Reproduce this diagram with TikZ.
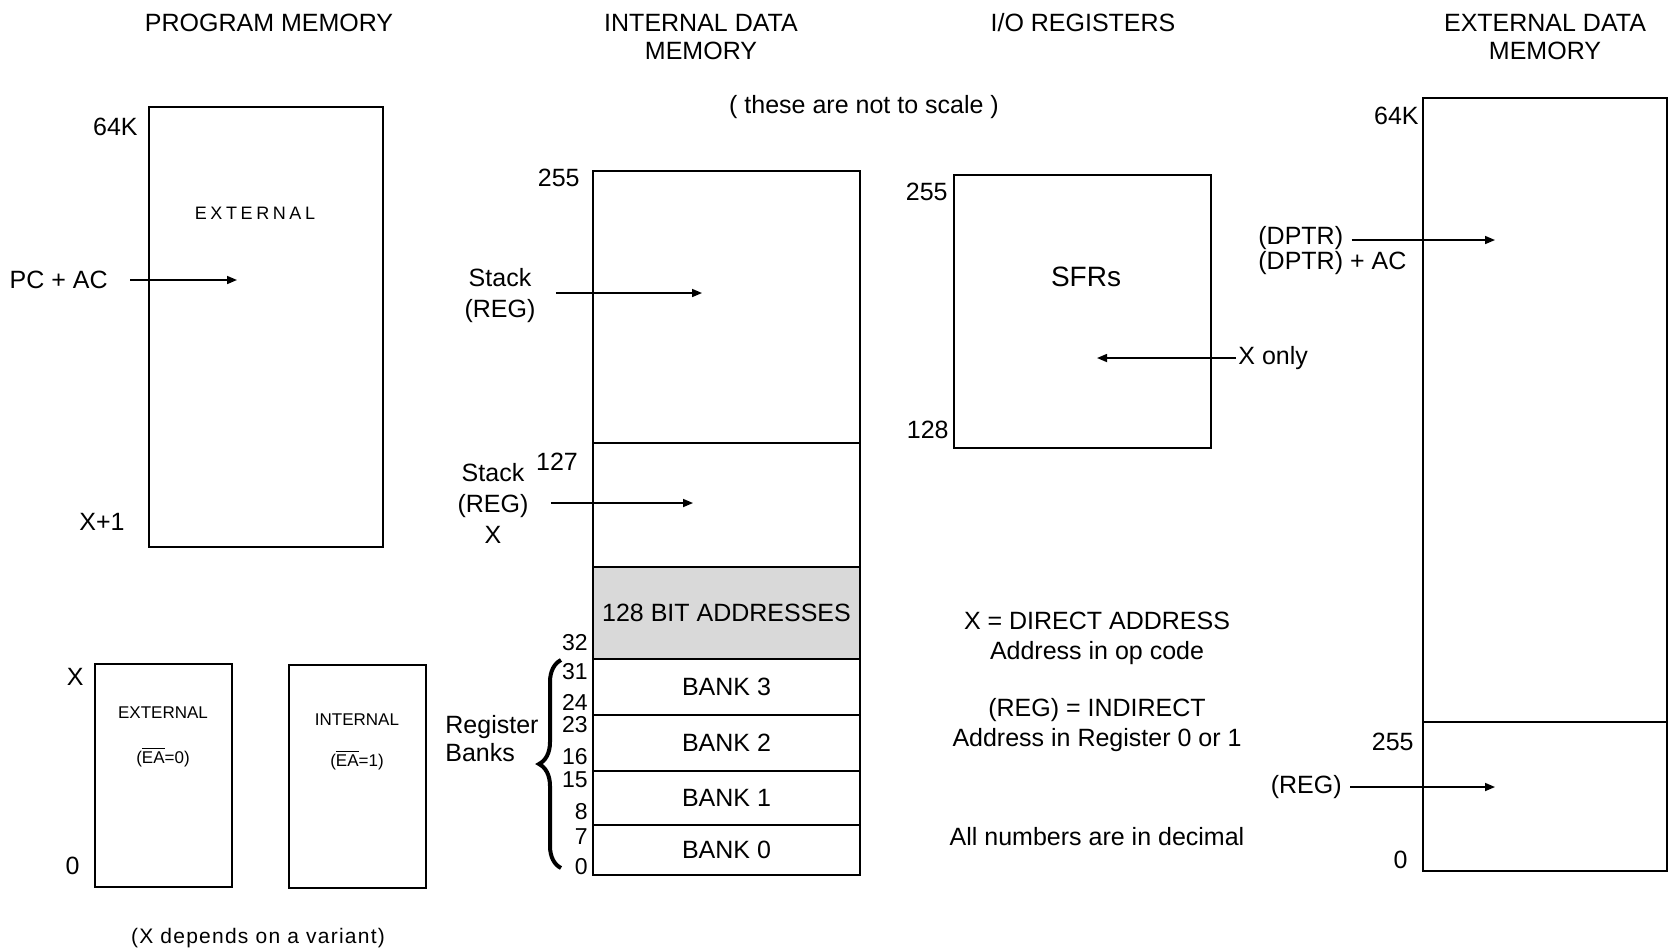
\documentclass[tikz,border=0pt]{standalone}
\usepackage{fontspec}
\setmainfont{Liberation Sans}
\newfontfamily\spacedfont[LetterSpace=20]{Liberation Sans}
\newfontfamily\trackfont[LetterSpace=6]{Liberation Sans}
\usetikzlibrary{arrows.meta, positioning, decorations.pathreplacing}

\begin{document}
\begin{tikzpicture}[
    x=0.5pt, y=-0.5pt,
    every node/.style={font=\fontsize{12.5}{15}\selectfont},
    membox/.style={rectangle, draw=black, line width=1pt, inner sep=0pt, outer sep=0pt, anchor=north west},
    bitbox/.style={membox, fill=black!15},
    heading/.style={align=center, font=\fontsize{12.5}{14}\selectfont},
    addr/.style={anchor=east, inner sep=1pt},
    bankno/.style={anchor=east, inner sep=0.5pt, font=\fontsize{11.5}{12}\selectfont},
    pinlabel/.style={align=center, inner sep=1pt, font=\fontsize{12.5}{15.5}\selectfont},
    eabox/.style={font=\fontsize{8.5}{10}\selectfont},
    note/.style={align=center},
    ptr/.style={draw=black, line width=0.8pt, -{Triangle[length=5pt, width=4pt]}},
    regbrace/.style={draw=black, decorate, decoration={brace, amplitude=11pt}, line width=2pt}
]
    \fill[white] (0,0) rectangle (1669,950);
    \useasboundingbox (0,0) rectangle (1669,950);

    % --- PROGRAM MEMORY ---
    \node[heading] (progtitle) at (269,23) {PROGRAM MEMORY};
    \node[membox, minimum width=117pt, minimum height=220pt] (prog) at (149,107) {};
    \node[addr] (prog64k) at (140,127) {64K};
    \node[font=\spacedfont\fontsize{9}{10}\selectfont] (progext) at (255,213) {EXTERNAL};
    \node[addr] (pcac) at (110,280) {PC + AC};
    \coordinate (pcaim) at (237,280);
    \node[addr] (progx1) at (127,522) {X+1};

    \node[membox, minimum width=68.5pt, minimum height=111.5pt] (extprog) at (95,664) {};
    \node[addr] (xtop) at (86,677) {X};
    \node[addr] (xzero) at (82,866) {0};
    \node[eabox] (extname) at (163,713) {EXTERNAL};
    \node[eabox] (extea) at (163,757) {(\(\overline{\mbox{EA}}\)=0)};

    \node[membox, minimum width=68.5pt, minimum height=111.5pt] (intprog) at (289,665) {};
    \node[eabox] (intname) at (357,720) {INTERNAL};
    \node[eabox] (intea) at (357,760) {(\(\overline{\mbox{EA}}\)=1)};

    \node[font=\trackfont\fontsize{10.5}{12}\selectfont] (variant) at (258,938) {(X depends on a variant)};

    % --- INTERNAL DATA MEMORY ---
    \node[heading] (idtitle) at (701,37) {INTERNAL DATA\\MEMORY};
    \node[heading] (scale) at (864,107) {( these are not to scale )};
    \node[membox, minimum width=133.5pt, minimum height=136pt] (idhigh) at (593,171) {};
    \node[membox, minimum width=133.5pt, minimum height=62pt] (idlow) at (idhigh.south west) {};
    \node[bitbox, minimum width=133.5pt, minimum height=46pt] (bitarea) at (idlow.south west) {128 BIT ADDRESSES};
    \node[membox, minimum width=133.5pt, minimum height=28pt] (bank3) at (bitarea.south west) {BANK 3};
    \node[membox, minimum width=133.5pt, minimum height=28pt] (bank2) at (bank3.south west) {BANK 2};
    \node[membox, minimum width=133.5pt, minimum height=27pt] (bank1) at (bank2.south west) {BANK 1};
    \node[membox, minimum width=133.5pt, minimum height=25pt] (bank0) at (bank1.south west) {BANK 0};

    \node[addr] (id255) at (582,178) {255};
    \node (id127) at (557,462) {127};
    \node[pinlabel] (stack1) at (500,296) {Stack\\(REG)};
    \coordinate (stack1aim) at (702,293);
    \node[pinlabel] (stack2) at (493,503) {Stack\\(REG)\\X};
    \coordinate (stack2aim) at (693,503);

    \node[bankno] (bn32) at (589,643) {32};
    \node[bankno] (bn31) at (589,672) {31};
    \node[bankno] (bn24) at (589,702) {24};
    \node[bankno] (bn23) at (589,725) {23};
    \node[bankno] (bn16) at (589,757) {16};
    \node[bankno] (bn15) at (589,780) {15};
    \node[bankno] (bn8) at (589,812) {8};
    \node[bankno] (bn7) at (589,837) {7};
    \node[bankno] (bn0) at (589,867) {0};

    \coordinate (brtop) at (561,660);
    \coordinate (brbot) at (561,868);
    \draw[regbrace] (brbot) -- (brtop);
    \node[anchor=west, align=left, inner sep=1pt, font=\fontsize{12.5}{14}\selectfont] (regbanks) at (443,739) {Register\\Banks};

    % --- I/O REGISTERS ---
    \node[heading] (iotitle) at (1083,23) {I/O REGISTERS};
    \node[membox, minimum width=128.5pt, minimum height=136.5pt] (sfr) at (954,175) {};
    \node[font=\fontsize{14}{16}\selectfont] (sfrname) at (1086,277) {SFRs};
    \node[addr] (io255) at (950,192) {255};
    \node[addr] (io128) at (951,430) {128};
    \node[anchor=west, inner sep=1pt] (xonly) at (1236,358) {X only};
    \coordinate (sfraim) at (1097,358);

    \node[note] (direct) at (1097,638) {X = DIRECT ADDRESS\\Address in op code};
    \node[note] (indirect) at (1097,725) {(REG) = INDIRECT\\Address in Register 0 or 1};
    \node (decimal) at (1097,837) {All numbers are in decimal};

    % --- EXTERNAL DATA MEMORY ---
    \node[heading] (edtitle) at (1545,37) {EXTERNAL DATA\\MEMORY};
    \node[membox, minimum width=122pt, minimum height=312pt] (edhigh) at (1423,98) {};
    \node[membox, minimum width=122pt, minimum height=74.5pt] (edlow) at (edhigh.south west) {};
    \node[addr] (ed64k) at (1421,116) {64K};
    \node[anchor=west, inner sep=1pt] (dptr) at (1256,238) {(DPTR)};
    \node[anchor=west, inner sep=1pt] (dptrac) at (1256,263) {(DPTR) + AC};
    \coordinate (dptraim) at (1495,240);
    \node[addr] (ed255) at (1416,742) {255};
    \node[addr] (edreg) at (1344,787) {(REG)};
    \coordinate (edregaim) at (1495,787);
    \node[addr] (ed0) at (1410,860) {0};

    % --- POINTERS ---
    \path [ptr, shorten <=10pt] (pcac) -- (pcaim);
    \path [ptr, shorten <=9pt] (stack1.east |- stack1aim) -- (stack1aim);
    \path [ptr, shorten <=10pt] (stack2.east |- stack2aim) -- (stack2aim);
    \path [ptr] (xonly) -- (sfraim);
    \path [ptr, shorten <=3pt] (dptr.east |- dptraim) -- (dptraim);
    \path [ptr, shorten <=3pt] (edreg) -- (edregaim);

\end{tikzpicture}
\end{document}
